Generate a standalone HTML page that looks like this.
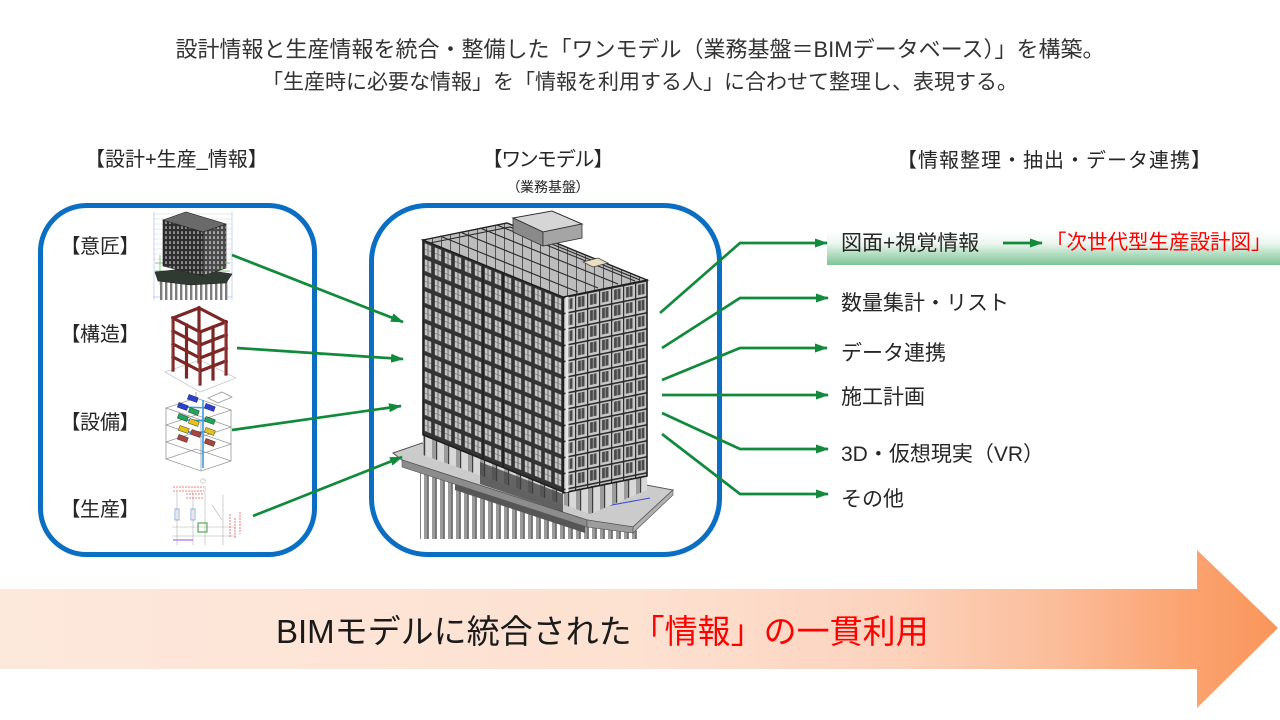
<!DOCTYPE html>
<html><head><meta charset="utf-8">
<style>
html,body{margin:0;padding:0;background:#fff;}
#c{position:relative;width:1280px;height:720px;overflow:hidden;background:#fff;font-family:"Liberation Sans","Noto Sans CJK JP",sans-serif;color:#262626;}
svg{position:absolute;left:0;top:0;}
.t{position:absolute;white-space:nowrap;line-height:1;}
.p{font-feature-settings:"palt";}
.red{color:#ff0000;}
</style></head><body><div id="c">
<svg width="1280" height="720" viewBox="0 0 1280 720" xmlns="http://www.w3.org/2000/svg">
<defs>
<marker id="ah" viewBox="0 0 13 9" refX="12" refY="4.5" markerWidth="13" markerHeight="9" markerUnits="userSpaceOnUse" orient="auto">
<path d="M0,0 L13,4.5 L0,9 z" fill="#118a3c"/>
</marker>
<linearGradient id="og" gradientUnits="userSpaceOnUse" x1="0" y1="0" x2="1278" y2="0">
<stop offset="0" stop-color="#fde8dc"/>
<stop offset="0.5" stop-color="#fde1d1"/>
<stop offset="0.7" stop-color="#fcd3bd"/>
<stop offset="0.82" stop-color="#fbbe9c"/>
<stop offset="0.93" stop-color="#fba370"/>
<stop offset="1" stop-color="#f9955a"/>
</linearGradient>
<linearGradient id="gb" x1="0" y1="0" x2="0" y2="1">
<stop offset="0" stop-color="#ffffff"/>
<stop offset="0.35" stop-color="#eef7f1"/>
<stop offset="1" stop-color="#7cc495"/>
</linearGradient>
<pattern id="winL" patternUnits="userSpaceOnUse" x="423" y="240" width="10" height="16">
<rect width="10" height="16" fill="#333"/>
<rect x="1.8" y="2.6" width="6.4" height="11.6" fill="#c4c4c4"/>
<rect x="4.6" y="2.6" width="0.8" height="11.6" fill="#555"/>
<rect x="1.8" y="8" width="6.4" height="0.7" fill="#777"/>
</pattern>
<pattern id="winR" patternUnits="userSpaceOnUse" x="563" y="297" width="12" height="16">
<rect width="12" height="16" fill="#c8c8c8"/>
<rect x="0" y="0" width="12" height="1.6" fill="#2a2a2a"/>
<rect x="0" y="0" width="1.2" height="16" fill="#2a2a2a"/>
<rect x="3" y="3" width="6.5" height="10.5" fill="#4a4a4a"/>
<rect x="5.8" y="3" width="1" height="10.5" fill="#9a9a9a"/>
</pattern>
<pattern id="roofP" patternUnits="userSpaceOnUse" x="0" y="0" width="9" height="9">
<rect width="9" height="9" fill="#bdbdbd"/>
<rect width="1" height="9" fill="#555"/>
</pattern>
<pattern id="piles" patternUnits="userSpaceOnUse" x="0" y="0" width="8" height="10">
<rect width="8" height="10" fill="#ffffff"/>
<rect x="0" width="3.5" height="10" fill="#9a9a9a"/>
<rect x="3.5" width="1.2" height="10" fill="#4d4d4d"/>
</pattern>
<pattern id="cols" patternUnits="userSpaceOnUse" x="0" y="0" width="12" height="10">
<rect width="12" height="10" fill="#d8d8d8"/>
<rect x="0" width="4" height="10" fill="#9c9c9c"/>
<rect x="4" width="1.2" height="10" fill="#3d3d3d"/>
</pattern>
<pattern id="mL" patternUnits="userSpaceOnUse" x="0" y="0" width="4" height="5">
<rect width="4" height="5" fill="#2e2e2e"/>
<rect x="1" y="1.2" width="2" height="2.8" fill="#8a8a8a"/>
</pattern>
<pattern id="mR" patternUnits="userSpaceOnUse" x="0" y="0" width="4" height="5">
<rect width="4" height="5" fill="#4a4a4a"/>
<rect x="1" y="1.2" width="2" height="2.8" fill="#a5a5a5"/>
</pattern>
<pattern id="mP" patternUnits="userSpaceOnUse" x="0" y="0" width="5" height="5">
<rect width="5" height="5" fill="#fff"/>
<rect width="2.4" height="5" fill="#7d7d7d"/>
</pattern>
</defs>

<!-- bottom big arrow -->
<polygon points="0,589 1197,589 1197,550 1278,628 1197,708 1197,669 0,669" fill="url(#og)"/>

<!-- blue rounded boxes -->
<rect x="40.5" y="205.5" width="274" height="349" rx="46" ry="46" fill="none" stroke="#0a6fc2" stroke-width="5"/>
<rect x="371.5" y="205.5" width="348" height="349" rx="56" ry="56" fill="none" stroke="#0a6fc2" stroke-width="5"/>

<!-- green bar -->
<rect x="827" y="231" width="453" height="34" fill="url(#gb)"/>

<!-- ========== 意匠 mini image ========== -->
<g stroke="#d6d6d6" stroke-width="0.6">
<line x1="153" y1="214" x2="232" y2="214"/><line x1="153" y1="219" x2="232" y2="219"/>
<line x1="153" y1="224" x2="232" y2="224"/><line x1="153" y1="229" x2="232" y2="229"/>
<line x1="153" y1="234" x2="232" y2="234"/><line x1="153" y1="239" x2="232" y2="239"/>
<line x1="153" y1="244" x2="232" y2="244"/><line x1="153" y1="249" x2="232" y2="249"/>
<line x1="153" y1="254" x2="232" y2="254"/><line x1="153" y1="259" x2="232" y2="259"/>
</g>
<g stroke="#5fb860" stroke-width="0.7"><line x1="155" y1="263" x2="230" y2="263"/><line x1="155" y1="271" x2="230" y2="271"/><line x1="160" y1="255" x2="160" y2="285"/></g>
<g stroke="#aac6ee" stroke-width="0.7"><line x1="153" y1="297" x2="232" y2="297"/><line x1="232" y1="212" x2="232" y2="300"/><line x1="154" y1="212" x2="154" y2="300"/></g>
<polygon points="160,280 190,283 228,280 228,300 160,300" fill="url(#mP)"/>
<polygon points="155,272 192,268 232,274 226,283 190,285 158,281" fill="#2f3b32" stroke="#222" stroke-width="0.6"/>
<polygon points="163,220 203,232 203,276 163,266" fill="url(#mL)" stroke="#222" stroke-width="0.6"/>
<polygon points="203,232 226,224 226,268 203,276" fill="url(#mR)" stroke="#222" stroke-width="0.6"/>
<polygon points="163,220 186,212 226,224 203,232" fill="#6a6a6a" stroke="#222" stroke-width="0.6"/>

<!-- ========== 構造 frame ========== -->
<g stroke="#c8c8c8" stroke-width="0.8" fill="none">
<polygon points="165,372 200,392 236,378 200,360"/>
</g>
<g stroke="#7c2626" stroke-width="3.2" stroke-linecap="square" fill="none">
<line x1="199" y1="308" x2="199" y2="362"/>
<line x1="173" y1="318" x2="199" y2="308"/><line x1="199" y1="308" x2="226" y2="322"/>
<line x1="173" y1="318" x2="173" y2="370"/>
<line x1="186.5" y1="325" x2="186.5" y2="377"/>
<line x1="200" y1="332" x2="200" y2="384"/>
<line x1="213" y1="327" x2="213" y2="379"/>
<line x1="226" y1="322" x2="226" y2="374"/>
<line x1="173" y1="318" x2="200" y2="332"/><line x1="200" y1="332" x2="226" y2="322"/>
<line x1="173" y1="331" x2="200" y2="345"/><line x1="200" y1="345" x2="226" y2="335"/>
<line x1="173" y1="344" x2="200" y2="358"/><line x1="200" y1="358" x2="226" y2="348"/>
<line x1="173" y1="357" x2="200" y2="371"/><line x1="200" y1="371" x2="226" y2="361"/>
</g>
<g stroke="#b25858" stroke-width="0.8" fill="none">
<line x1="172" y1="318" x2="172" y2="370"/><line x1="199" y1="332" x2="199" y2="384"/><line x1="225" y1="322" x2="225" y2="374"/>
</g>

<!-- ========== 設備 image ========== -->
<g stroke="#9a9a9a" stroke-width="0.8" fill="none">
<polygon points="166,408 201,420 231,410 196,398"/>
<polygon points="166,425 201,437 231,427 196,415"/>
<polygon points="166,442 201,454 231,444 196,432"/>
<polygon points="166,459 201,471 231,461 196,449"/>
<line x1="166" y1="408" x2="166" y2="459"/><line x1="201" y1="420" x2="201" y2="471"/><line x1="231" y1="410" x2="231" y2="461"/>
<polygon points="208,398 222,392 232,397 218,403"/>
<line x1="196" y1="392" x2="196" y2="398"/>
</g>
<g stroke="#3a9de2" stroke-width="1.6" fill="none">
<line x1="203" y1="400" x2="203" y2="468"/><line x1="183" y1="407" x2="210" y2="408"/><line x1="186" y1="420" x2="210" y2="421"/><line x1="186" y1="432" x2="210" y2="432"/>
</g>
<g stroke="#222" stroke-width="0.4">
<rect x="178" y="404" width="10" height="5" fill="#2a3fd6" transform="rotate(20 183 406)"/>
<rect x="188" y="396" width="10" height="5" fill="#2a3fd6" transform="rotate(20 193 398)"/>
<rect x="205" y="405" width="10" height="5" fill="#2a3fd6" transform="rotate(20 210 407)"/>
<rect x="178" y="415" width="10" height="5" fill="#1fa65a" transform="rotate(20 183 417)"/>
<rect x="189" y="409" width="10" height="5" fill="#1fa65a" transform="rotate(20 194 411)"/>
<rect x="205" y="418" width="10" height="5" fill="#1fa65a" transform="rotate(20 210 420)"/>
<rect x="179" y="427" width="10" height="5" fill="#e3c219" transform="rotate(20 184 429)"/>
<rect x="189" y="420" width="10" height="5" fill="#e3c219" transform="rotate(20 194 422)"/>
<rect x="205" y="429" width="10" height="5" fill="#e3c219" transform="rotate(20 210 431)"/>
<rect x="178" y="436" width="10" height="5" fill="#a8453f" transform="rotate(20 183 438)"/>
<rect x="191" y="431" width="10" height="5" fill="#a8453f" transform="rotate(20 196 433)"/>
<rect x="205" y="440" width="10" height="5" fill="#a8453f" transform="rotate(20 210 442)"/>
</g>

<!-- ========== 生産 drawing ========== -->
<g stroke="#b0b0b0" stroke-width="0.6" fill="none">
<line x1="177" y1="492" x2="177" y2="545"/><line x1="193" y1="492" x2="193" y2="545"/>
<line x1="205" y1="486" x2="205" y2="545"/><line x1="223" y1="495" x2="223" y2="545"/>
<line x1="172" y1="527" x2="236" y2="527"/><line x1="172" y1="536" x2="236" y2="536"/>
<circle cx="203" cy="481" r="2.2"/>
<line x1="212" y1="505" x2="222" y2="520"/>
</g>
<g stroke="#e55" stroke-width="0.8" fill="none" stroke-dasharray="2,1">
<line x1="173" y1="487" x2="204" y2="487"/><line x1="173" y1="491" x2="204" y2="491"/>
<line x1="186" y1="494" x2="203" y2="494"/><line x1="186" y1="498" x2="203" y2="498"/>
<line x1="230" y1="514" x2="230" y2="538"/><line x1="240" y1="512" x2="240" y2="534"/>
<line x1="235" y1="518" x2="235" y2="538"/>
</g>
<g stroke="#7aa0d8" stroke-width="0.8" fill="none">
<rect x="175" y="509" width="4" height="11"/><rect x="191" y="509" width="4" height="11"/>
</g>
<rect x="198" y="523" width="9" height="9" fill="none" stroke="#5a5" stroke-width="1.2"/>
<line x1="173" y1="540" x2="193" y2="540" stroke="#b070e0" stroke-width="1.2"/>

<!-- ========== Main building ========== -->
<!-- piles -->
<polygon points="420,466 587,526 640,531 640,539 420,539" fill="url(#piles)"/>
<polygon points="455,480 585,524 585,533 455,490" fill="#565656"/>
<!-- slab -->
<polygon points="393,453 422,443 673,490 633,527 587,520 402,460" fill="#cbcbcb" stroke="#555" stroke-width="1"/>
<polygon points="402,460 587,520 587,527 402,467" fill="#8c8c8c" stroke="#555" stroke-width="0.6"/>
<polygon points="587,520 633,527 633,533 587,527" fill="#9c9c9c" stroke="#555" stroke-width="0.6"/>
<polygon points="633,527 673,490 673,495 633,533" fill="#b0b0b0" stroke="#555" stroke-width="0.6"/>
<g stroke="#3a4fd0" stroke-width="1" fill="none">
<polyline points="440,452 590,509 650,498"/>
<line x1="490" y1="470" x2="510" y2="462"/><line x1="545" y1="492" x2="560" y2="486"/>
</g>
<!-- pilotis / ground level -->
<polygon points="423,434 563,491 647,474 647,490 590,514 423,455" fill="url(#cols)"/>
<polygon points="480,462 563,494 563,512 480,484" fill="#3d3d3d" opacity="0.75"/>
<!-- left face -->
<g transform="matrix(1,0.407,0,1,0,-172.2)">
<rect x="423" y="240" width="140" height="195" fill="url(#winL)" stroke="#1e1e1e" stroke-width="1.6"/>
<line x1="483" y1="240" x2="483" y2="435" stroke="#1e1e1e" stroke-width="1.5"/>
<line x1="503" y1="240" x2="503" y2="435" stroke="#1e1e1e" stroke-width="1.5"/>
</g>
<!-- right face -->
<g transform="matrix(1,-0.202,0,1,0,113.7)">
<rect x="563" y="297" width="84" height="196" fill="url(#winR)" stroke="#1e1e1e" stroke-width="1.6"/>
<line x1="567" y1="297" x2="567" y2="493" stroke="#e6e6e6" stroke-width="3"/>
</g>
<!-- roof -->
<polygon points="423,240 507,223 647,280 563,297" fill="url(#roofP)" stroke="#1e1e1e" stroke-width="1.4"/>
<g stroke="#2a2a2a" stroke-width="1.1">
<polyline points="430,243 510,227 640,280" fill="none"/>
<line x1="440" y1="236" x2="578" y2="292"/>
<line x1="460" y1="232" x2="598" y2="288"/>
<line x1="480" y1="228" x2="618" y2="284"/>
<line x1="497" y1="225" x2="635" y2="281"/>
</g>
<!-- stair tower -->
<polygon points="513,218 552,211 582,224 543,232" fill="#d6d6d6" stroke="#333" stroke-width="1"/>
<polygon points="513,218 543,232 543,246 513,232" fill="#8a8a8a" stroke="#333" stroke-width="0.8"/>
<polygon points="543,232 582,224 582,238 543,246" fill="#a5a5a5" stroke="#333" stroke-width="0.8"/>
<polygon points="583,262 598,258 608,263 593,267" fill="#e8e0c0" stroke="#444" stroke-width="0.8"/>

<!-- ========== green arrows left ========== -->
<g stroke="#118a3c" stroke-width="2.7" fill="none" marker-end="url(#ah)">
<line x1="232" y1="255" x2="403" y2="322"/>
<line x1="237" y1="348" x2="403" y2="359"/>
<line x1="232" y1="430" x2="401" y2="406"/>
<line x1="253" y1="516" x2="402" y2="457"/>
</g>
<!-- ========== green arrows right ========== -->
<g stroke="#118a3c" stroke-width="2.7" fill="none" marker-end="url(#ah)" stroke-linejoin="miter">
<polyline points="660,313 740,243 827,243"/>
<polyline points="662,348 740,298 828,298"/>
<polyline points="662,380 740,348 827,348"/>
<polyline points="662,395 828,395"/>
<polyline points="662,413 740,449 828,449"/>
<polyline points="662,434 740,494 828,494"/>
<line x1="1003" y1="243" x2="1042" y2="243"/>
</g>
</svg>

<!-- titles -->
<div class="t" style="left:0;width:1280px;text-align:center;top:39px;font-size:22px;color:#333;">設計情報と生産情報を統合・整備した「ワンモデル（業務基盤＝BIMデータベース）」を構築。</div>
<div class="t" style="left:0;width:1280px;text-align:center;top:72px;font-size:21px;color:#333;">「生産時に必要な情報」を「情報を利用する人」に合わせて整理し、表現する。</div>

<!-- column headers -->
<div class="t" style="left:85px;top:150px;font-size:20px;">【設計+生産_情報】</div>
<div class="t p" style="left:448px;width:200px;text-align:center;top:150px;font-size:20px;">【ワンモデル】</div>
<div class="t p" style="left:448px;width:200px;text-align:center;top:180px;font-size:14px;">（業務基盤）</div>
<div class="t" style="left:897px;top:151px;font-size:20px;letter-spacing:1px;">【情報整理・抽出・データ連携】</div>

<!-- left labels -->
<div class="t p" style="left:70px;top:237px;font-size:20px;">【意匠】</div>
<div class="t p" style="left:70px;top:325px;font-size:20px;">【構造】</div>
<div class="t p" style="left:70px;top:413px;font-size:20px;">【設備】</div>
<div class="t p" style="left:70px;top:500px;font-size:20px;">【生産】</div>

<!-- right labels -->
<div class="t" style="left:841px;top:232.5px;font-size:21px;">図面+視覚情報</div>
<div class="t red" style="left:1046px;top:232.5px;font-size:20.5px;">「次世代型生産設計図」</div>
<div class="t" style="left:841px;top:292.5px;font-size:21px;">数量集計・リスト</div>
<div class="t" style="left:841px;top:342.5px;font-size:21px;">データ連携</div>
<div class="t" style="left:841px;top:386.5px;font-size:21px;">施工計画</div>
<div class="t" style="left:841px;top:443.5px;font-size:21px;">3D・仮想現実（VR）</div>
<div class="t" style="left:841px;top:488.5px;font-size:21px;">その他</div>

<!-- bottom text -->
<div class="t" style="left:276px;top:615px;font-size:33px;color:#1a1a1a;">BIMモデルに統合された<span class="red">「情報」の一貫利用</span></div>
</div></body></html>
